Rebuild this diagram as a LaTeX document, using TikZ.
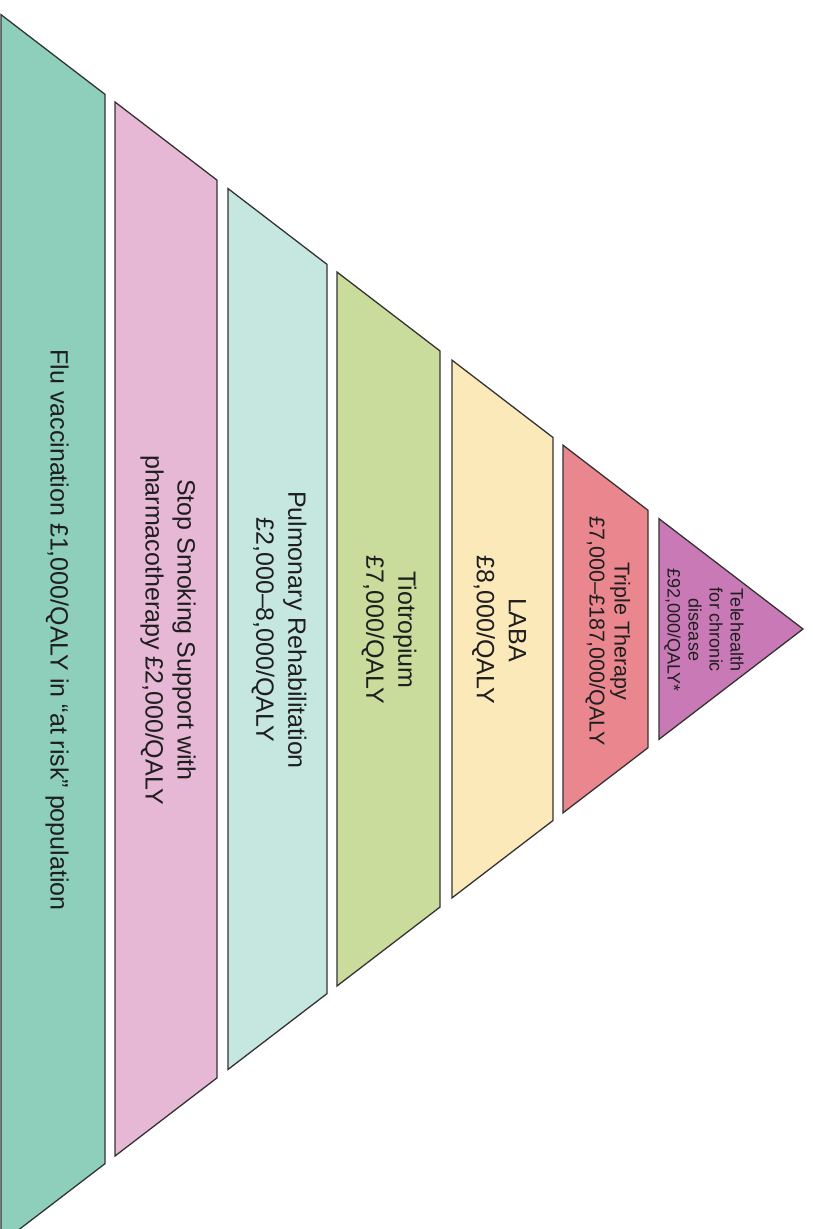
\documentclass[tikz,border=0pt]{standalone}
\usepackage{fontspec}
\setmainfont{Liberation Sans}
\definecolor{bandA}{HTML}{8ECFBC}
\definecolor{bandB}{HTML}{E6B8D5}
\definecolor{bandC}{HTML}{C6E6E0}
\definecolor{bandD}{HTML}{C9DC9B}
\definecolor{bandE}{HTML}{FCE9BA}
\definecolor{bandF}{HTML}{EA868E}
\definecolor{bandG}{HTML}{C97AB6}
\definecolor{edge}{HTML}{333333}
\definecolor{txt}{HTML}{1E1E1E}
\begin{document}
\begin{tikzpicture}[x=1pt,y=-1pt,
  band/.style={draw=edge,line width=1.3pt,line join=miter},
  lbl/.style={rotate=-90,align=center,inner sep=0pt,text=txt,font=\fontsize{25}{32}\selectfont},
  lblsmall/.style={lbl,font=\fontsize{21.5}{25}\selectfont},
  lbltiny/.style={lbl,font=\fontsize{18}{21}\selectfont}]
\useasboundingbox (0,0) rectangle (812,1229);
\clip (0,0) rectangle (812,1229);
% bands: left x, right x, colour
\foreach \xl/\xr/\c in {1/105/bandA,115/217/bandB,228/327/bandC,337/440/bandD,452/553/bandE,563/648/bandF}{
  \path[band,fill=\c] ({\xl},{629-0.766*(803-\xl)}) -- ({\xr},{629-0.766*(803-\xr)})
    -- ({\xr},{629+0.766*(803-\xr)}) -- ({\xl},{629+0.766*(803-\xl)}) -- cycle;
}
\path[band,fill=bandG] (659,{629-0.766*144}) -- (803,629) -- (659,{629+0.766*144}) -- cycle;
% labels
\node[lbl] (flu) at (57,630) {Flu vaccination £1,000/QALY in “at risk” population};
\node[lbl] (smoke) at (168,630) {Stop Smoking Support with\\pharmacotherapy £2,000/QALY};
\node[lbl] (pulm) at (279,630) {Pulmonary Rehabilitation\\£2,000–8,000/QALY};
\node[lbl] (tio) at (389,630) {Tiotropium\\£7,000/QALY};
\node[lbl] (laba) at (499,630) {LABA\\£8,000/QALY};
\node[lblsmall] (triple) at (608,631) {Triple Therapy\\£7,000–£187,000/QALY};
\node[lbltiny] (tele) at (704,630) {Telehealth\\for chronic\\disease\\£92,000/QALY*};
\end{tikzpicture}
\end{document}
